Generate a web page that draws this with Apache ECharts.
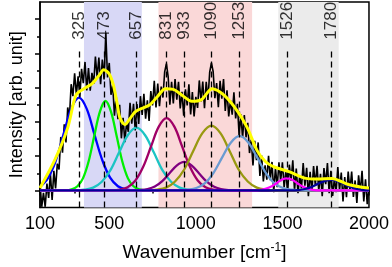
<!DOCTYPE html>
<html><head><meta charset="utf-8">
<script src="https://cdn.jsdelivr.net/npm/echarts@6/dist/echarts.min.js"></script>
<style>html,body{margin:0;padding:0;background:#fff}#c{width:392px;height:267px}</style>
</head><body><div id="c"></div>
<script>
// ---- data ----
const xTickLabels = [100, 500, 1000, 1500, 2000];
const xMinorTicks = [300, 750, 1250, 1750];
const yMajorTicks = [0, 1, 2, 3, 4, 5];
const yMinorTicks = [0.5, 1.5, 2.5, 3.5, 4.5];
const peakLabels = [325, 473, 657, 831, 933, 1090, 1253, 1526, 1780];
const regions = [[354, 688], [784, 1325], [1476, 1825]];
const regionColors = ['#D8D8F6', '#FAD8D8', '#EBEBEB'];

const spectrumStart = 100, spectrumStep = 10;
const spectrum = [
0.22,-0.48,-0.07,-0.48,0.2,-0.22,0.5,-0.28,0.57,0.06,
0.78,0.61,1.56,1.1,1.93,1.4,2.42,2.14,3.1,2.75,
3.42,2.79,3.33,2.73,3.55,3.13,3.75,2.92,3.57,2.91,
3.43,3.11,3.91,3.3,3.88,3.1,3.82,3.24,4.6,3.3,
3.72,2.79,3.08,2.18,2.75,2.08,2.5,1.52,2.12,1.41,
1.98,1.71,2.56,1.95,2.53,1.75,2.52,1.94,2.75,2.2,
2.82,2.09,2.63,2.03,2.9,2.48,3.2,2.42,3.12,2.46,
3.03,2.71,3.46,3.7,3.33,2.5,3.17,2.54,3.25,2.65,
3.17,2.39,2.88,2.18,2.95,2.48,3.1,2.22,2.87,2.16,
2.73,2.41,3.21,2.6,3.18,2.4,3.17,2.64,3.45,3.72,
3.47,2.69,3.13,2.43,3.2,2.68,3.25,2.32,2.92,2.16,
2.63,2.21,2.86,2.1,2.53,1.6,2.22,1.54,2.2,1.55,
1.97,1.09,1.48,0.73,1.45,0.88,1.4,0.42,1.02,0.26,
0.73,0.31,1.01,0.3,0.83,-0.05,0.67,0.09,0.82,0.27,
0.82,0.09,0.58,-0.07,0.75,0.28,0.88,0.0,0.64,-0.08,
0.43,0.06,0.8,0.14,0.66,-0.17,0.54,-0.04,0.71,0.16,
0.72,-0.01,0.48,-0.17,0.65,0.18,0.8,-0.08,0.57,-0.16,
0.34,-0.05,0.68,0.0,0.52,-0.32,0.39,-0.2,0.55,-0.01,
0.55,-0.19,0.29,-0.37,0.44,-0.04,0.57,-0.32,0.32,-0.4,
0.11];

const fitCurve = [[100,0.07],[185,0.88],[260,1.83],[308,2.78],[354,2.97],[400,3.11],[440,3.35],[468,3.52],[500,3.4],[524,3.07],[545,2.55],[562,2.11],[590,1.92],[620,2.1],[654,2.31],[732,2.49],[780,2.75],[824,2.97],[870,2.95],[920,2.78],[977,2.6],[1033,2.65],[1094,2.97],[1163,2.78],[1241,2.31],[1297,1.83],[1354,1.16],[1400,0.85],[1448,0.69],[1542,0.54],[1636,0.35],[1700,0.33],[1785,0.35],[1881,0.17],[1950,0.1],[2000,0.07]];

const peak325 = [[100,0.1],[145,0.35],[190,0.85],[235,1.62],[280,2.38],[325,2.71],[370,2.38],[415,1.62],[460,0.88],[505,0.37],[550,0.12],[595,0.03],[650,0],[2000,0]];
const peak473 = [[100,0],[250,0],[283,0.03],[316,0.12],[348,0.35],[381,0.85],[413,1.58],[446,2.3],[478,2.61],[510,2.3],[543,1.58],[575,0.85],[608,0.35],[640,0.12],[673,0.03],[720,0],[2000,0]];
const peak657 = [[100,0],[300,0],[357,0.02],[407,0.08],[457,0.25],[507,0.59],[557,1.11],[607,1.61],[657,1.83],[707,1.61],[757,1.11],[807,0.59],[857,0.25],[907,0.08],[957,0.02],[1010,0],[2000,0]];
const peak831 = [[100,0],[520,0],[561,0.02],[606,0.09],[651,0.29],[696,0.69],[741,1.28],[786,1.86],[831,2.11],[876,1.86],[921,1.28],[966,0.69],[1011,0.29],[1056,0.09],[1101,0.02],[1160,0],[2000,0]];
const peak933 = [[100,0],[640,0],[678,0.01],[721,0.04],[763,0.11],[806,0.27],[848,0.5],[891,0.73],[933,0.83],[975,0.73],[1018,0.5],[1060,0.27],[1103,0.11],[1145,0.04],[1188,0.01],[1240,0],[2000,0]];
const peak1090 = [[100,0],[720,0],[775,0.02],[828,0.08],[880,0.26],[933,0.61],[985,1.15],[1038,1.67],[1090,1.89],[1142,1.67],[1195,1.15],[1247,0.61],[1300,0.26],[1352,0.08],[1405,0.02],[1460,0],[2000,0]];
const peak1253 = [[100,0],[900,0],[953,0.02],[1003,0.07],[1053,0.21],[1103,0.52],[1153,0.97],[1203,1.4],[1253,1.59],[1303,1.4],[1353,0.97],[1403,0.52],[1453,0.21],[1503,0.07],[1553,0.02],[1610,0],[2000,0]];
const peak1526 = [[100,0],[1330,0],[1376,0.015],[1406,0.05],[1436,0.11],[1466,0.21],[1496,0.31],[1526,0.35],[1556,0.31],[1586,0.21],[1616,0.11],[1646,0.05],[1676,0.015],[1720,0],[2000,0]];
const peak1780 = [[100,0],[1550,0],[1593,0.01],[1630,0.04],[1668,0.1],[1705,0.19],[1743,0.27],[1780,0.31],[1817,0.27],[1855,0.19],[1892,0.1],[1930,0.04],[1967,0.01],[2000,0]];

const components = [
  {data: peak325, color: '#0000FF'},
  {data: peak473, color: '#00F000'},
  {data: peak657, color: '#1CC4C4'},
  {data: peak831, color: '#A00066'},
  {data: peak933, color: '#800080'},
  {data: peak1090, color: '#999911'},
  {data: peak1253, color: '#6A9BD2'},
  {data: peak1526, color: '#FF00FF'},
  {data: peak1780, color: '#000099'}
];

// ---- chart ----
const FONT = "'Liberation Sans', Arial, sans-serif";
const chart = echarts.init(document.getElementById('c'), null, {renderer: 'canvas'});
const spectrumData = spectrum.map((v, i) => [spectrumStart + i * spectrumStep, v]);
const lineTop = 4.06, labelY = 4.4;

const series = [];
series.push({
  type: 'line', data: [], silent: true,
  markArea: {silent: true, data: regions.map((r, i) => [{xAxis: r[0], itemStyle: {color: regionColors[i]}}, {xAxis: r[1]}])}
});
series.push({
  type: 'line', data: spectrumData, showSymbol: false, symbol: 'none',
  lineStyle: {color: '#000', width: 1.6}, z: 3
});
components.forEach(c => series.push({
  type: 'line', data: c.data, showSymbol: false, symbol: 'none', smooth: 0.35,
  lineStyle: {color: c.color, width: 2.3}, z: 4
}));
series.push({
  type: 'line', data: [], silent: true, z: 5,
  markLine: {
    silent: true, symbol: ['none', 'none'], animation: false,
    label: {show: false},
    lineStyle: {color: '#000', width: 1.3, type: [6, 4]},
    data: peakLabels.map(p => [{coord: [p, -0.5]}, {coord: [p, lineTop]}])
  }
});
series.push({
  type: 'line', data: fitCurve, showSymbol: false, symbol: 'none', smooth: 0.3,
  lineStyle: {color: '#FFFF00', width: 3}, z: 6
});
series.push({
  type: 'scatter', data: peakLabels.map(p => [p, labelY]), symbolSize: 1,
  itemStyle: {color: 'rgba(0,0,0,0)'}, z: 7,
  label: {show: true, position: 'inside', rotate: 90, align: 'left', verticalAlign: 'middle',
    fontSize: 17, fontFamily: FONT, color: '#000', formatter: p => String(p.value[0])}
});

chart.setOption({
  animation: false,
  grid: {left: 35, right: 21, top: 2, bottom: 55, show: true, borderColor: '#000', borderWidth: 1.5, backgroundColor: 'transparent'},
  xAxis: [{
    type: 'value', min: 100, max: 2000, position: 'bottom',
    name: 'Wavenumber [cm{sup|-1}]', nameLocation: 'middle', nameGap: 34,
    nameTextStyle: {fontSize: 19, fontFamily: FONT, color: '#000', rich: {sup: {fontSize: 12, verticalAlign: 'top', padding: [0, 0, 10, 0], fontFamily: FONT}}},
    axisLine: {lineStyle: {color: '#000', width: 1.5}},
    axisTick: {customValues: xTickLabels, length: 5, lineStyle: {color: '#000', width: 1.5}},
    axisLabel: {customValues: xTickLabels, fontSize: 18, fontFamily: FONT, color: '#000', margin: 8, formatter: v => String(v)},
    splitLine: {show: false}
  }, {
    type: 'value', min: 100, max: 2000, position: 'bottom',
    axisLine: {show: false},
    axisTick: {customValues: xMinorTicks, length: 3, lineStyle: {color: '#000', width: 1.5}},
    axisLabel: {show: false, customValues: xMinorTicks},
    splitLine: {show: false}
  }],
  yAxis: [{
    type: 'value', min: -0.5, max: 5.5, position: 'left',
    name: 'Intensity [arb. unit]', nameLocation: 'middle', nameGap: 14,
    nameTextStyle: {fontSize: 18, fontFamily: FONT, color: '#000'},
    axisLine: {show: true, lineStyle: {color: '#000', width: 1.5}},
    axisTick: {show: true, customValues: yMajorTicks, length: 5, lineStyle: {color: '#000', width: 1.5}},
    axisLabel: {show: false, customValues: yMajorTicks},
    splitLine: {show: false}
  }, {
    type: 'value', min: -0.5, max: 5.5, position: 'left',
    axisLine: {show: false},
    axisTick: {show: true, customValues: yMinorTicks, length: 3, lineStyle: {color: '#000', width: 1.5}},
    axisLabel: {show: false, customValues: yMinorTicks},
    splitLine: {show: false}
  }],
  series: series
});
</script></body></html>
